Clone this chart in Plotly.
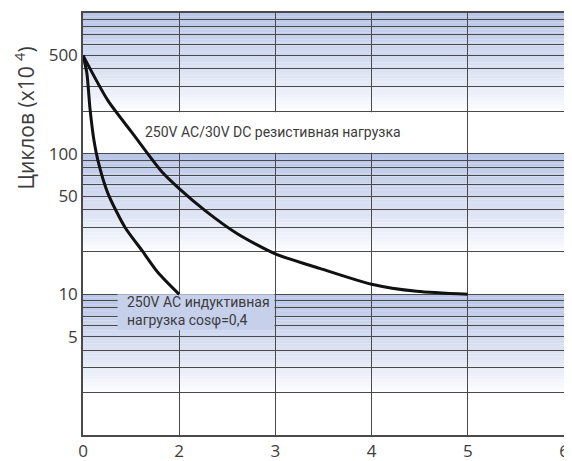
import math
import numpy as np
import plotly.graph_objects as go

# ---- data ----
x_tick_labels = ["0", "2", "3", "4", "5", "6"]
x_tick_values = [0, 2, 3, 4, 5, 6]          # label values (axis is not linear between 0 and 2)

y_grid_values = [2, 3, 4, 5, 6, 7, 8, 9, 10,
                 20, 30, 40, 50, 60, 70, 80, 90, 100,
                 200, 300, 400, 500, 600, 700, 800, 900, 1000]
y_labelled = {5: "5", 10: "10", 50: "50", 100: "100", 500: "500"}

res_x = [0, 0.52, 1.02, 1.62, 2.0, 2.27, 2.6, 3.0, 3.46, 4.0, 4.47, 5.0]
res_y = [500, 238, 141, 75.7, 56.5, 39.4, 27.1, 19.4, 15.3, 11.8, 10.5, 10]

ind_x = [0, 0.08, 0.146, 0.228, 0.312, 0.52, 0.872, 1.226, 1.558, 2.0]
ind_y = [500, 375, 208, 124, 89, 52, 30, 20.5, 14.3, 10]

res_label = "250V AC/30V DC резистивная нагрузка"
ind_label = "250V AC индуктивная<br>нагрузка cosφ=0,4"
y_title = "Циклов (x10 <sup>4</sup>)"

# axis position of each label value (equal spacing of the tick labels)
tick_pos = list(range(len(x_tick_values)))


def to_pos(xs):
    return list(np.interp(xs, x_tick_values, tick_pos))


BLUE = (184, 197, 230)
GRID = "#4a4a4a"
TXT = "#3c3c3c"

fig = go.Figure()

# annotation boxes (drawn as traces so they hide the gridlines)
fig.add_trace(go.Scatter(
    x=[0.01, 3.985, 3.985, 0.01, 0.01], y=[101.5, 101.5, 197, 197, 101.5],
    fill="toself", fillcolor="white", line=dict(width=0), mode="lines",
    hoverinfo="skip", showlegend=False))
fig.add_trace(go.Scatter(
    x=[0.36, 1.99, 1.99, 0.36, 0.36], y=[5.55, 5.55, 10, 10, 5.55],
    fill="toself", fillcolor="rgb(198,208,234)", line=dict(width=0), mode="lines",
    hoverinfo="skip", showlegend=False))

# curves
fig.add_trace(go.Scatter(x=to_pos(res_x), y=res_y, mode="lines",
                         line=dict(color="#111111", width=3, shape="spline", smoothing=0.7),
                         showlegend=False))
fig.add_trace(go.Scatter(x=to_pos(ind_x), y=ind_y, mode="lines",
                         line=dict(color="#111111", width=3, shape="spline", smoothing=0.7),
                         showlegend=False))

# gradient bands below the grid
shapes = []
N = 30
for dec in [1, 10, 100]:
    lo, hi = math.log10(2 * dec), math.log10(10 * dec)
    for i in range(N):
        a = lo + (hi - lo) * i / N
        b = lo + (hi - lo) * (i + 1) / N
        t = (i + 0.5) / N
        al = min(1.0, t ** 0.8)
        c = tuple(int(round(255 + (BLUE[k] - 255) * al)) for k in range(3))
        shapes.append(dict(type="rect", xref="x", yref="y", x0=0, x1=5,
                           y0=10 ** a, y1=10 ** b, layer="below",
                           fillcolor="rgb(%d,%d,%d)" % c, line=dict(width=0)))

# page body has an 8px margin, so the figure is placed 8px right/down
fig.update_layout(
    width=564, height=453,
    margin=dict(l=75, r=8, t=5, b=26, autoexpand=False),
    paper_bgcolor="white", plot_bgcolor="white",
    shapes=shapes,
    showlegend=False,
    font=dict(family="Open Sans, DejaVu Sans, sans-serif", color=TXT),
)

fig.update_xaxes(range=[0, 5], tickmode="array", tickvals=tick_pos, ticktext=x_tick_labels,
                 showgrid=True, gridcolor=GRID, gridwidth=1.3, automargin=False,
                 showline=True, linecolor=GRID, linewidth=1.5, mirror=True,
                 zeroline=False, tickfont=dict(size=17, color=TXT), ticks="")
fig.update_yaxes(type="log", range=[0, 3], tickmode="array", tickvals=y_grid_values,
                 ticktext=[y_labelled.get(v, "") for v in y_grid_values],
                 showgrid=True, gridcolor=GRID, gridwidth=1.3, automargin=False,
                 showline=True, linecolor=GRID, linewidth=1.5, mirror=True,
                 zeroline=False, tickfont=dict(size=17, color=TXT), ticks="")

narrow = "Roboto, Liberation Sans Narrow, sans-serif"
fig.add_annotation(x=to_pos([1.25])[0], y=2.156, xref="x", yref="y", text=res_label,
                   showarrow=False, xanchor="left", yanchor="middle",
                   font=dict(family=narrow, size=14, color=TXT))
fig.add_annotation(x=to_pos([0.87])[0], y=0.876, xref="x", yref="y", text=ind_label,
                   showarrow=False, xanchor="left", yanchor="middle", align="left",
                   font=dict(family=narrow, size=14, color=TXT))
fig.add_annotation(x=-0.122, y=0.751, xref="paper", yref="paper", text=y_title,
                   textangle=-90, showarrow=False, xanchor="center", yanchor="middle",
                   font=dict(family="Open Sans, DejaVu Sans, sans-serif", size=21, color=TXT))

fig.write_html("out.html")
